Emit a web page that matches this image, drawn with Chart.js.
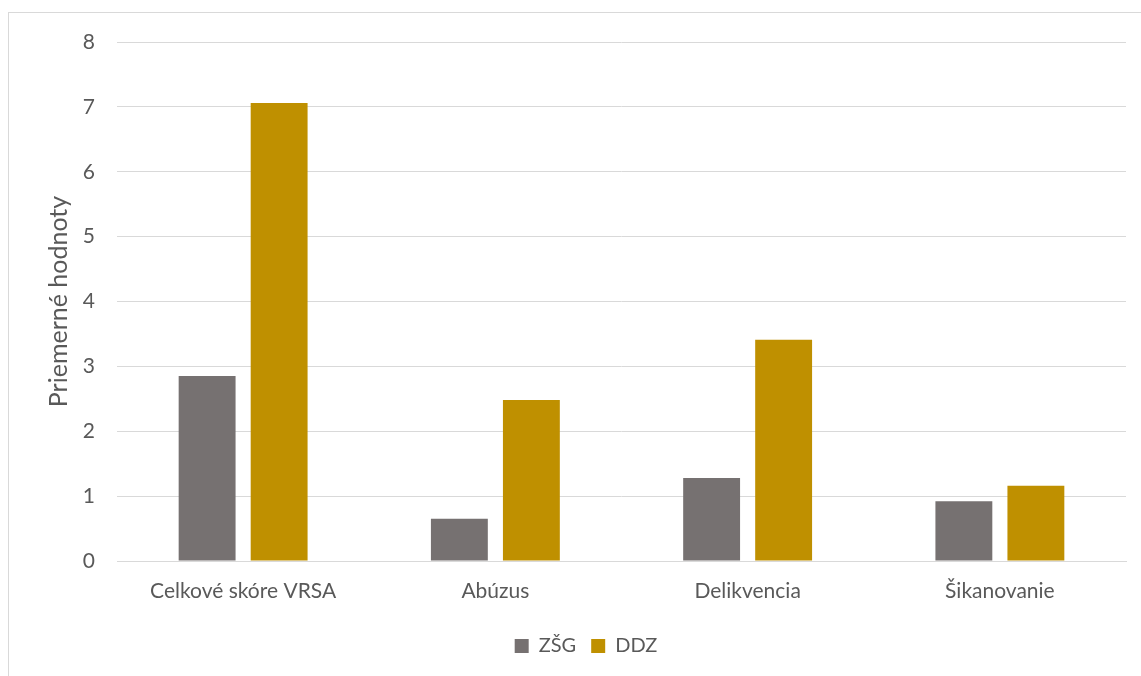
<!DOCTYPE html>
<html>
<head>
<meta charset="utf-8">
<script src="https://cdn.jsdelivr.net/npm/chart.js@4/dist/chart.umd.min.js"></script>
<style>
    html, body { margin: 0; padding: 0; background: #ffffff; }
    body { width: 1141px; height: 676px; position: relative; overflow: hidden; }
    .frame {
        position: absolute; left: 8px; top: 12px; width: 1200px; height: 700px;
        border-left: 1px solid #d9d9d9; border-top: 1px solid #d9d9d9;
    }
    .plot-wrap { position: absolute; left: 0; top: 0; width: 1141px; height: 676px; }
</style>
</head>
<body>
<div class="frame"></div>
<div class="plot-wrap"><canvas id="plot"></canvas></div>
<script>
"use strict";

const categories = ['Celkové skóre VRSA', 'Abúzus', 'Delikvencia', 'Šikanovanie'];
const zsgValues = [2.85, 0.65, 1.28, 0.92];
const ddzValues = [7.06, 2.48, 3.41, 1.16];
const seriesNames = ['ZŠG', 'DDZ'];
const yTicks = [0, 1, 2, 3, 4, 5, 6, 7, 8];

const textColor = '#595959';
const fontFamily = 'Lato, "Open Sans", sans-serif';

const plotCanvas = document.getElementById('plot');
const chart = new Chart(plotCanvas, {
    type: 'bar',
    data: {
        labels: categories,
        datasets: [{
            label: seriesNames[0],
            data: zsgValues,
            backgroundColor: '#767171',
            categoryPercentage: 0.571,
            barPercentage: 0.79,
        }, {
            label: seriesNames[1],
            data: ddzValues,
            backgroundColor: '#bf9000',
            categoryPercentage: 0.571,
            barPercentage: 0.79,
        }]
    },
    options: {
        responsive: true,
        maintainAspectRatio: false,
        animation: false,
        // left padding also nudges the centred legend a bit to the right
        layout: { padding: { left: 46, right: 15, top: 42, bottom: 10 } },
        plugins: {
            tooltip: { enabled: false },
            legend: {
                position: 'bottom',
                labels: {
                    boxWidth: 14,
                    boxHeight: 14,
                    padding: 15,
                    color: textColor,
                    font: { family: fontFamily, size: 20 }
                }
            }
        },
        scales: {
            x: {
                grid: { display: false },
                border: { color: '#d9d9d9', width: 1 },
                ticks: { color: textColor, padding: 10, font: { family: fontFamily, size: 21 } },
                afterFit: (scale) => { scale.height = 60; }
            },
            y: {
                min: 0,
                max: 8,
                afterBuildTicks: (scale) => { scale.ticks = yTicks.map(v => ({ value: v })); },
                grid: { color: '#d9d9d9', lineWidth: 1, drawTicks: false },
                border: { display: false },
                ticks: { color: textColor, padding: 22, font: { family: fontFamily, size: 21 } },
                title: {
                    display: true,
                    text: 'Priemerné hodnoty',
                    color: textColor,
                    font: { family: fontFamily, size: 25, lineHeight: 1.0 },
                    padding: { top: 0, bottom: 0 }
                },
                afterFit: (scale) => { scale.width = 71; }
            }
        }
    }
});
</script>
</body>
</html>
